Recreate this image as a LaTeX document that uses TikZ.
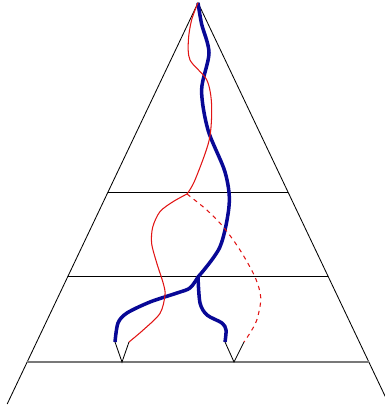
\documentclass[tikz,border=0pt]{standalone}
\usepackage{xcolor}
\usepackage{tikz}
\usetikzlibrary{calc}
\definecolor{navyblue}{RGB}{8, 8, 150}
\definecolor{linered}{RGB}{225, 20, 20}
\definecolor{basegray}{RGB}{120, 120, 120}

\begin{document}
\begin{tikzpicture}[
  borde/.style={line width=0.6pt, black},
  base/.style={line width=0.9pt, basegray},
  punta/.style={line width=0.6pt, black},
  gruesa/.style={line width=2.5pt, navyblue, line join=round},
  fina/.style={line width=0.75pt, linered},
  finad/.style={line width=0.75pt, linered, dashed}
]
\useasboundingbox (0,0) rectangle (9.6,10.2);
% Triángulo y niveles
\coordinate (top) at (4.95,10.13);
\coordinate (bl) at (0.18,0.1);
\coordinate (br) at (9.72,0.1);
\draw[borde] (bl) -- (top) -- (br);
\draw[borde] ($(top)!0.4716!(bl)$) -- ($(top)!0.4716!(br)$);
\draw[borde] ($(top)!0.681!(bl)$) -- ($(top)!0.681!(br)$);
\draw[base] ($(top)!0.8953!(bl)$) -- ($(top)!0.8953!(br)$);
% Puntas en la base
\coordinate (va) at (2.875,1.65);
\coordinate (vb) at (3.225,1.65);
\coordinate (vc) at (5.625,1.65);
\coordinate (vd) at (6.1,1.65);
\draw[punta] (va) -- (3.05,1.15) -- (vb);
\draw[punta] (vc) -- (5.85,1.15) -- (vd);
% Bifurcaciones
\coordinate (bfork) at (4.95,3.275);
\coordinate (rfork) at (4.675,5.35);
% Curva azul
\draw[gruesa] plot[smooth] coordinates {(top) (5.04,9.6) (5.225,8.875) (5.04,7.95) (5.2,6.95) (5.625,5.9) (5.73,5.1) (5.5,4.03) (bfork)};
\draw[gruesa] plot[smooth] coordinates {(bfork) (4.75,3.0) (4.425,2.875) (3.75,2.65) (3.175,2.375) (2.95,2.125) (va)};
\draw[gruesa] plot[smooth] coordinates {(bfork) (5.0,2.625) (5.175,2.325) (5.55,2.125) (5.65,1.95) (vc)};
% Curva roja
\draw[fina] plot[smooth] coordinates {(top) (4.79,9.7) (4.71,9.2) (4.75,8.7) (5.17,8.2) (5.29,7.575) (5.23,6.7) (4.875,5.7) (rfork)};
\draw[fina] plot[smooth] coordinates {(rfork) (4.33,5.16) (4.0,4.91) (3.82,4.53) (3.79,4.12) (3.92,3.62) (4.08,3.12) (4.125,2.825) (4.0,2.365) (3.58,1.95) (vb)};
\draw[finad] plot[smooth] coordinates {(rfork) (5.17,4.95) (5.58,4.53) (6.0,3.95) (6.375,3.275) (6.52,2.75) (6.42,2.2) (6.25,1.875) (vd)};
\end{tikzpicture}
\end{document}
